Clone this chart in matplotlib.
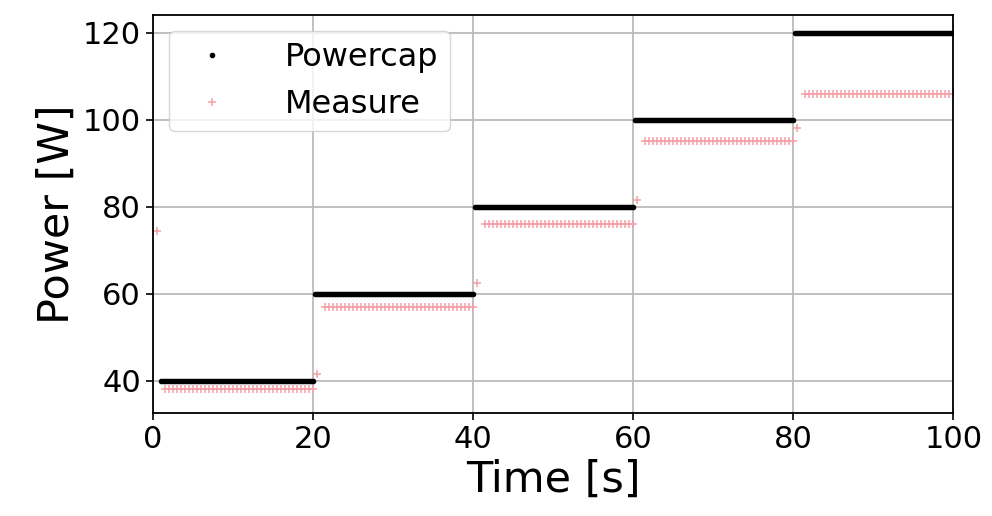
import numpy as np
import matplotlib.pyplot as plt

# power cap levels per 20 s step
cap_levels = [40, 60, 80, 100, 120]
measure_levels = [38.0, 57, 76, 95, 106]
# first measured sample of each step (transition spike)
measure_first = [74.5, 41.5, 62.5, 81.5, 98]
step_len = 20

cap_t = np.arange(1, 100.01, 0.25)
cap_p = np.array([cap_levels[min(int((t - 0.01) // step_len), 4)] for t in cap_t])

meas_t = []
meas_p = []
for i in range(5):
    meas_t.append(i * step_len + 0.5)
    meas_p.append(measure_first[i])
    for k in np.arange(1.0, step_len, 0.5):
        meas_t.append(i * step_len + 0.5 + k)
        meas_p.append(measure_levels[i])

fig, ax = plt.subplots(figsize=(9.92, 5.16), dpi=100)
ax.plot(cap_t, cap_p, '.', color='black', markersize=6, label='Powercap')
ax.plot(meas_t, meas_p, '+', color='#f4a0a8', markersize=6, mew=1.1, label='Measure')

ax.set_xlim(0, 100)
ax.set_ylim(32.6, 124.1)
ax.set_yticks([40, 60, 80, 100, 120])
ax.set_xlabel("Time [s]", fontsize=31)
ax.set_ylabel("Power [W]", fontsize=31)
ax.tick_params(labelsize=22, length=5, width=1.2)
for s in ax.spines.values():
    s.set_linewidth(1.3)
ax.grid(color='#bbbbbb', linewidth=1.3)
ax.legend(loc='upper left', fontsize=23, handletextpad=1.3, borderpad=0.35)
plt.subplots_adjust(left=0.154, right=0.961, top=0.971, bottom=0.200)
plt.savefig('out.png')
